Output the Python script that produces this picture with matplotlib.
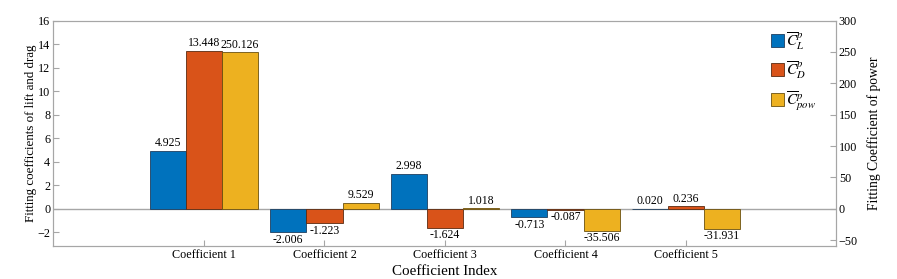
import numpy as np
import matplotlib
matplotlib.use("Agg")
from matplotlib import pyplot as plt

plt.rcParams['font.family'] = ['Liberation Serif', 'DejaVu Serif']
plt.rcParams['mathtext.fontset'] = 'stix'

# data
categories = ["Coefficient 1", "Coefficient 2", "Coefficient 3", "Coefficient 4", "Coefficient 5"]
cl_vals = [4.925, -2.006, 2.998, -0.713, 0.020]
cd_vals = [13.448, -1.223, -1.624, -0.087, 0.236]
cpow_vals = [250.126, 9.529, 1.018, -35.506, -31.931]
left_ticks = [-2, 0, 2, 4, 6, 8, 10, 12, 14, 16]
right_ticks = [-50, 0, 50, 100, 150, 200, 250, 300]

c_blue = "#0072BD"
c_red = "#D95319"
c_yel = "#EDB120"
axcol = "#a6a6a6"

fig = plt.figure(figsize=(8.97, 2.79), dpi=100)
ax = fig.add_axes([0.059, 0.118, 0.873, 0.808])
ax2 = ax.twinx()

x = np.arange(1, len(categories) + 1)
w = 0.3

b1 = ax.bar(x - w, cl_vals, w, color=c_blue, edgecolor="#1f3f5f", linewidth=0.6, label=r"$\overline{C}_L^p$")
b2 = ax.bar(x, cd_vals, w, color=c_red, edgecolor="#5a2a10", linewidth=0.6, label=r"$\overline{C}_D^p$")
b3 = ax2.bar(x + w, cpow_vals, w, color=c_yel, edgecolor="#6a5010", linewidth=0.6, label=r"$\overline{C}_{pow}^p$")

ax.axhline(0, color=axcol, linewidth=1.0, zorder=0)

def put_labels(axis, bars, vals):
    for bar, v in zip(bars, vals):
        xc = bar.get_x() + bar.get_width() / 2
        if v >= 0:
            axis.annotate("%.3f" % v, (xc, v), xytext=(0, 1), textcoords="offset points",
                          ha="center", va="bottom", fontsize=8.5)
        else:
            axis.annotate("%.3f" % v, (xc, v), xytext=(0, -1), textcoords="offset points",
                          ha="center", va="top", fontsize=8.5)

put_labels(ax, b1, cl_vals)
put_labels(ax, b2, cd_vals)
put_labels(ax2, b3, cpow_vals)

ax.set_xlim(-0.253, 6.245)
ax.set_ylim(-3.175, 16)
ax2.set_ylim(-59.5, 300)
ax.set_xticks(x)
ax.set_xticklabels(categories)
ax.set_yticks(left_ticks)
ax2.set_yticks(right_ticks)

for a in (ax, ax2):
    for s in a.spines.values():
        s.set_color(axcol)
        s.set_linewidth(0.8)
    a.tick_params(direction="in", colors=axcol, labelcolor="black", labelsize=8.7, length=4, pad=2)

ax.set_xlabel("Coefficient Index", fontsize=10.8, labelpad=3)
ax.set_ylabel("Fitting coefficients of lift and drag", fontsize=9.4)
ax.yaxis.set_label_coords(-0.0204, 0.5)
ax2.set_ylabel("Fitting Coefficient of power", fontsize=9.8)
ax2.yaxis.set_label_coords(1.0396, 0.5)

ax2.legend(handles=[b1, b2, b3], loc="upper left", bbox_to_anchor=(0.917, 0.96), frameon=False,
           fontsize=11, handlelength=0.85, handleheight=0.9, labelspacing=0.5, handletextpad=0.1,
           borderpad=0, borderaxespad=0)

fig.savefig("out.png", dpi=100)
